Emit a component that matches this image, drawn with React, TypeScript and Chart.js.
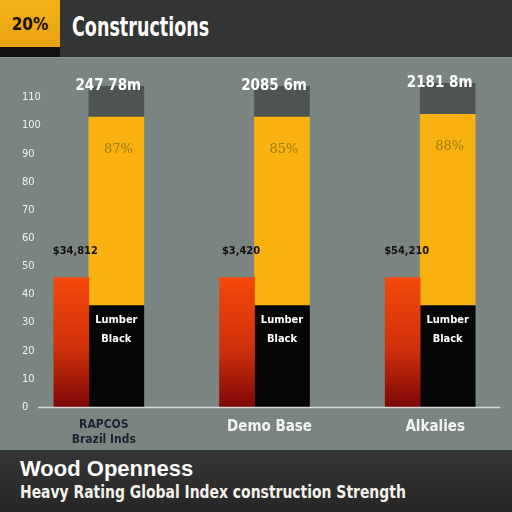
import { useEffect, useRef } from 'react';
import { Chart, registerables } from 'chart.js';

Chart.register(...registerables);

const categories = [['RAPCOS', 'Brazil Inds'], 'Demo Base', 'Alkalies'];
const redValues = [46, 46, 46];
const blackValues = [36, 36, 36];
const yellowValues = [67, 67, 68];
const grayValues = [11, 11, 11];
const totalLabels = ['247 78m', '2085 6m', '2181 8m'];
const shareLabels = ['87%', '85%', '88%'];
const priceLabels = ['$34,812', '$3,420', '$54,210'];
const blockLabels = [['Lumber', 'Black'], ['Lumber', 'Black'], ['Lumber', 'Black']];

const BG = '#7a8581';
const NARROW = '"DejaVu Sans Condensed", "Liberation Sans Narrow", sans-serif';

const labelPlugin = {
  id: 'barLabels',
  afterDatasetsDraw(chart: Chart) {
    const ctx = chart.ctx;
    const red = chart.getDatasetMeta(0).data;
    const black = chart.getDatasetMeta(1).data;
    const yellow = chart.getDatasetMeta(2).data;
    const gray = chart.getDatasetMeta(3).data;
    ctx.save();
    ctx.textAlign = 'center';
    ctx.textBaseline = 'middle';
    for (let i = 0; i < categories.length; i++) {
      const r: any = red[i];
      const b: any = black[i];
      const yl: any = yellow[i];
      const g: any = gray[i];
      // total above stack
      ctx.fillStyle = '#ffffff';
      ctx.font = `bold 15px ${NARROW}`;
      ctx.fillText(totalLabels[i], g.x - 8, g.y);
      // share inside yellow
      ctx.fillStyle = '#9c7d12';
      ctx.font = '13px "DejaVu Serif", serif';
      ctx.fillText(shareLabels[i], yl.x + 2, yl.y + 32);
      // price above red
      ctx.fillStyle = '#111111';
      ctx.font = `bold 11px ${NARROW}`;
      ctx.fillText(priceLabels[i], r.x + 4, r.y - 26);
      // block labels
      ctx.fillStyle = '#ffffff';
      ctx.font = `bold 11px ${NARROW}`;
      ctx.fillText(blockLabels[i][0], b.x, b.y + 14);
      ctx.fillText(blockLabels[i][1], b.x, b.y + 33);
    }
    // x axis line
    const { left, right, bottom } = chart.chartArea;
    ctx.strokeStyle = '#d6dbd8';
    ctx.lineWidth = 1.5;
    ctx.beginPath();
    ctx.moveTo(left + 32, bottom + 0.5);
    ctx.lineTo(right - 3, bottom + 0.5);
    ctx.stroke();
    ctx.restore();
  },
};

function BarsChart() {
  const canvasRef = useRef<HTMLCanvasElement>(null);
  const chartRef = useRef<Chart | null>(null);

  useEffect(() => {
    if (!canvasRef.current) return;
    if (chartRef.current) chartRef.current.destroy();

    const redFill = (c: any) => {
      const chart = c.chart;
      if (!chart.chartArea || c.raw === undefined) return '#e8400c';
      const y = chart.scales.y;
      const grad = chart.ctx.createLinearGradient(0, y.getPixelForValue(c.raw), 0, y.getPixelForValue(0));
      grad.addColorStop(0, '#f4490c');
      grad.addColorStop(0.55, '#d0300c');
      grad.addColorStop(1, '#7c0808');
      return grad;
    };

    chartRef.current = new Chart(canvasRef.current, {
      type: 'bar',
      data: {
        labels: categories,
        datasets: [
          { label: 'Price', data: redValues, stack: 'r', backgroundColor: redFill, barThickness: 35 },
          { label: 'Block', data: blackValues, stack: 's', backgroundColor: '#060606', barThickness: 55 },
          { label: 'Share', data: yellowValues, stack: 's', backgroundColor: '#f8b10e', barThickness: 55 },
          { label: 'Total', data: grayValues, stack: 's', backgroundColor: '#4e5453', barThickness: 55 },
        ],
      },
      options: {
        responsive: true,
        maintainAspectRatio: false,
        animation: false,
        layout: { padding: { top: 18, left: 6, right: 9, bottom: 0 } },
        plugins: {
          legend: { display: false },
          tooltip: { enabled: false },
        },
        scales: {
          x: {
            stacked: true,
            grid: { display: false },
            border: { display: false },
            afterFit: (s: any) => {
              s.height = 43;
            },
            ticks: {
              labelOffset: 15,
              padding: 3,
              color: (c: any) => (c.index === 0 ? '#1c2230' : '#f2f4f3'),
              font: (c: any) =>
                c.index === 0
                  ? { family: NARROW, size: 12, weight: 'bold' }
                  : { family: NARROW, size: 15, weight: 'bold' },
            },
          },
          y: {
            stacked: true,
            min: 0,
            max: 116,
            grid: { display: false },
            border: { display: false },
            afterFit: (s: any) => {
              s.width = 0;
            },
            ticks: {
              stepSize: 10,
              includeBounds: false,
              mirror: true,
              padding: 16,
              color: '#eef1ef',
              font: { family: NARROW, size: 11 },
            },
          },
        },
      },
      plugins: [labelPlugin],
    });

    return () => {
      if (chartRef.current) chartRef.current.destroy();
      chartRef.current = null;
    };
  }, []);

  return (
    <div style={{ position: 'relative', width: 512, height: 392 }}>
      <canvas ref={canvasRef} />
    </div>
  );
}

export default function App() {
  return (
    <div
      style={{
        position: 'fixed',
        left: 0,
        top: 0,
        width: 512,
        height: 512,
        background: BG,
        overflow: 'hidden',
        fontFamily: '"Liberation Sans", Arial, sans-serif',
      }}
    >
      <div style={{ display: 'flex', height: 57, background: '#333434', borderBottom: '1px solid #8b9592' }}>
        <div style={{ width: 60, height: 57, background: '#111', position: 'relative' }}>
          <div
            style={{
              height: 47,
              background: 'linear-gradient(#f4b21a, #e8a30e)',
              display: 'flex',
              alignItems: 'center',
              justifyContent: 'center',
              fontWeight: 'bold',
              fontSize: 17,
              color: '#1a1208',
              fontFamily: NARROW,
            }}
          >
            20%
          </div>
        </div>
        <div
          style={{
            paddingLeft: 12,
            lineHeight: '54px',
            color: '#ffffff',
            fontWeight: 'bold',
            fontSize: 26,
            fontFamily: NARROW,
            transform: 'scaleX(0.75)',
            transformOrigin: '12px 50%',
            whiteSpace: 'nowrap',
          }}
        >
          Constructions
        </div>
      </div>
      <BarsChart />
      <div
        style={{
          position: 'absolute',
          left: 0,
          top: 450,
          width: 512,
          height: 62,
          background: 'linear-gradient(#363636, #262626)',
          color: '#ffffff',
          fontWeight: 'bold',
        }}
      >
        <div style={{ position: 'absolute', left: 20, top: 6, fontSize: 22, fontFamily: '"Liberation Sans", Arial, sans-serif', whiteSpace: 'nowrap' }}>
          Wood Openness
        </div>
        <div
          style={{
            position: 'absolute',
            left: 20,
            top: 31,
            fontSize: 18,
            fontFamily: NARROW,
            color: '#f4f2ea',
            whiteSpace: 'nowrap',
            transform: 'scaleX(0.86)',
            transformOrigin: '0 50%',
          }}
        >
          Heavy Rating Global Index construction Strength
        </div>
      </div>
    </div>
  );
}
